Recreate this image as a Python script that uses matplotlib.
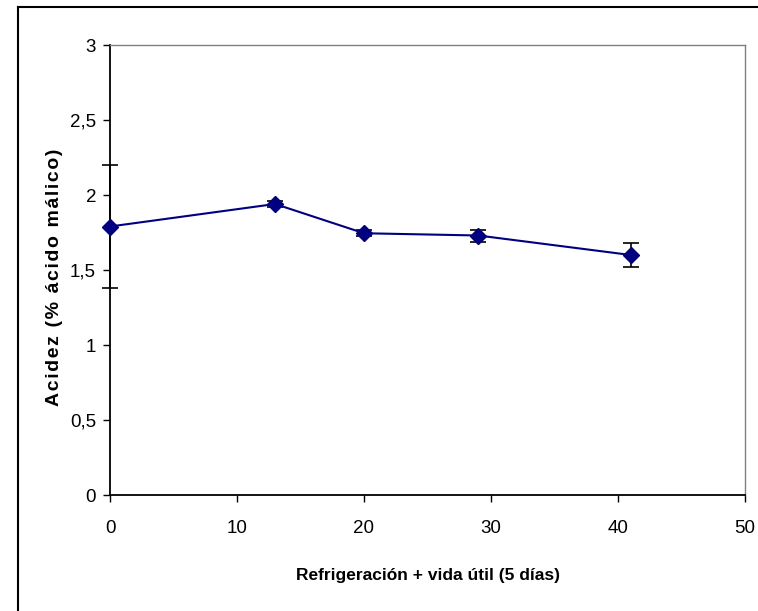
import matplotlib
matplotlib.use("Agg")
import matplotlib.pyplot as plt
from matplotlib.lines import Line2D
from matplotlib.ticker import FuncFormatter

# Data
dias = [0, 13, 20, 29, 41]
acidez = [1.79, 1.94, 1.745, 1.73, 1.6]
error = [0.41, 0.02, 0.02, 0.04, 0.08]
x_ticks = [0, 10, 20, 30, 40, 50]
y_ticks = [0, 0.5, 1, 1.5, 2, 2.5, 3]

fam = ['Liberation Sans', 'DejaVu Sans']

fig = plt.figure(figsize=(7.58, 6.11), dpi=100)
ax = fig.add_axes([110/758, 1-495/611, (745-110)/758, (495-45)/611])

ax.plot(dias, acidez, color='#000080', lw=1.5, zorder=3)
ax.errorbar(dias, acidez, yerr=error, fmt='none', ecolor='black', elinewidth=1.2,
            capsize=6, capthick=1.2, zorder=2, clip_on=False)
ax.plot(dias, acidez, linestyle='none', marker='D', markersize=8.5, color='#000080',
        zorder=4, clip_on=False)

ax.set_xlim(0, 50)
ax.set_ylim(0, 3)
ax.set_xticks(x_ticks)
ax.set_yticks(y_ticks)
ax.yaxis.set_major_formatter(FuncFormatter(lambda v, p: ('%g' % v).replace('.', ',')))

for s in ['top', 'right']:
    ax.spines[s].set_color('#808080')
    ax.spines[s].set_linewidth(1.0)
for s in ['left', 'bottom']:
    ax.spines[s].set_color('black')
    ax.spines[s].set_linewidth(1.3)

ax.tick_params(axis='both', direction='out', length=5, width=1, colors='black',
               labelsize=13.5)
ax.tick_params(axis='x', pad=13)
ax.tick_params(axis='y', pad=5)
for lab in ax.get_xticklabels() + ax.get_yticklabels():
    lab.set_family(fam)

ax.set_xlabel('Refrigeración + vida útil (5 días)', fontsize=12.5, fontweight='bold',
              family=fam, labelpad=22)
ylab = '\u200a'.join('Acidez (% ácido málico)')
ax.set_ylabel(ylab, fontsize=14, fontweight='bold', family=fam)
ax.yaxis.set_label_coords((63-110)/635, (495-277)/450)

# outer border
fig.add_artist(Line2D([18/758, 1.0], [1-7/611, 1-7/611], transform=fig.transFigure,
                      color='black', lw=1.5))
fig.add_artist(Line2D([18/758, 18/758], [0, 1-7/611], transform=fig.transFigure,
                      color='black', lw=1.5))

fig.savefig('out.png', dpi=100)
